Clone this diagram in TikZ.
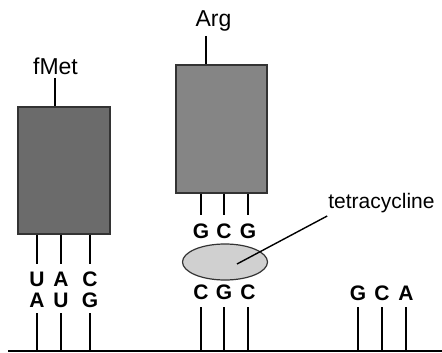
\documentclass[tikz,border=0pt]{standalone}
\usepackage{fontspec}
\setmainfont{Liberation Sans}
\usetikzlibrary{shapes.geometric}
\definecolor{trnaA}{HTML}{6B6B6B}
\definecolor{trnaB}{HTML}{858585}
\definecolor{drug}{HTML}{D0D0D0}
\definecolor{edge}{HTML}{333333}
\begin{document}
\begin{tikzpicture}[x=1pt,y=-1pt,
  trna/.style={draw=edge,line width=1.3pt,rectangle,inner sep=0pt},
  base/.style={font=\fontsize{21}{21}\selectfont\bfseries,inner sep=0pt,
               text height=15pt,text depth=0pt,anchor=base},
  aa/.style={font=\fontsize{23}{23}\selectfont,inner sep=0pt,anchor=base},
  leg/.style={line width=2pt,black},
  stem/.style={line width=2pt,black}]
\useasboundingbox (0,0) rectangle (442,353);

% mRNA strand
\coordinate (mL) at (8,351);
\coordinate (mR) at (442,351);
\draw[line width=1.4pt] (mL) -- (mR);

% fMet tRNA
\node[trna,fill=trnaA,minimum width=92pt,minimum height=127pt] (fbox) at (64,170.5) {};
\node[aa] (fmet) at (55.5,75) {fMet};
\coordinate (fstem) at (55,78);
\draw[stem] (fstem) -- (fstem |- fbox.north);

\node[base] (fU) at (37,286) {U};
\node[base] (fA) at (61,286) {A};
\node[base] (fC) at (90,286) {C};
\node[base] (mA) at (37,307) {A};
\node[base] (mU) at (61,307) {U};
\node[base] (mG) at (90,307) {G};
\foreach \n in {fU,fA,fC}
  \draw[leg] (fbox.south -| \n) -- ([yshift=22pt]\n.base);
\foreach \n in {mA,mU,mG}
  \draw[leg] ([yshift=-6pt]\n.base) -- (\n |- mL);

% Arg tRNA
\node[trna,fill=trnaB,minimum width=91pt,minimum height=128pt] (abox) at (221.5,129) {};
\node[aa] (arg) at (213.5,27) {Arg};
\coordinate (astem) at (206,36);
\draw[stem] (astem) -- (astem |- abox.north);

\node[base] (aG1) at (201,238) {G};
\node[base] (aC) at (224,238) {C};
\node[base] (aG2) at (248,238) {G};
\foreach \n in {aG1,aC,aG2}
  \draw[leg] (abox.south -| \n) -- ([yshift=23pt]\n.base);

\node[base] (nC1) at (201,299) {C};
\node[base] (nG) at (224,299) {G};
\node[base] (nC2) at (248,299) {C};
\foreach \n in {nC1,nG,nC2}
  \draw[leg] ([yshift=-8pt]\n.base) -- (\n |- mL);

% tetracycline
\node[ellipse,draw=edge,line width=1.2pt,fill=drug,minimum width=85pt,minimum height=36pt,inner sep=0pt] (tet) at (225,262) {};
\node[font=\fontsize{21}{21}\selectfont,inner sep=0pt,anchor=base] (tlab) at (381.5,208) {tetracycline};
\coordinate (tip) at (237,264);
\draw[line width=1.4pt] (tip) -- ([xshift=-1pt,yshift=-8pt]tlab.base west);

% free codon
\node[base] (gG) at (358,300) {G};
\node[base] (gC) at (382,300) {C};
\node[base] (gA) at (406,300) {A};
\foreach \n in {gG,gC,gA}
  \draw[leg] ([yshift=-7pt]\n.base) -- (\n |- mL);
\end{tikzpicture}
\end{document}
